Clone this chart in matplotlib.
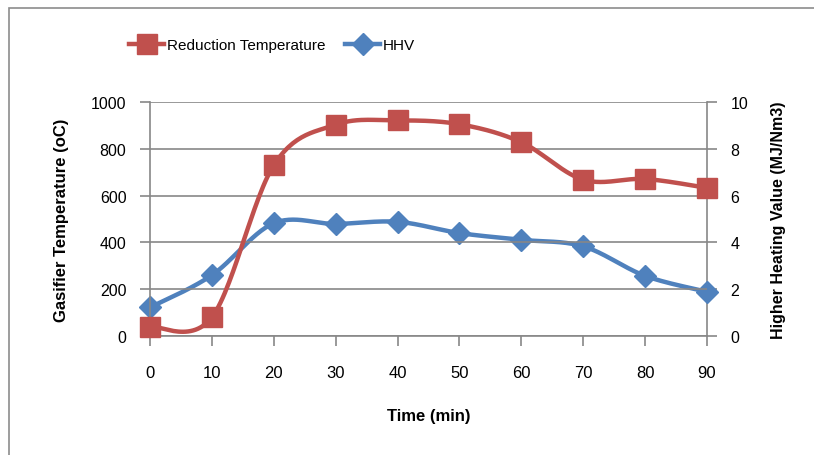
import numpy as np
import matplotlib
matplotlib.use("Agg")
import matplotlib.pyplot as plt
from matplotlib.lines import Line2D
from matplotlib.patches import Rectangle

# data
time_min = [0, 10, 20, 30, 40, 50, 60, 70, 80, 90]
reduction_temp = [40, 80, 730, 903, 921, 905, 828, 668, 671, 633]
hhv = [1.22, 2.6, 4.82, 4.79, 4.88, 4.4, 4.11, 3.83, 2.57, 1.89]

RED = "#C0504D"
BLUE = "#4F81BD"
GRID = "#878787"

plt.rcParams["font.family"] = ["Liberation Sans", "DejaVu Sans"]


def excel_smooth(x, y, n=30):
    # bezier smoothing like Excel's "smoothed line"
    x = np.asarray(x, float)
    y = np.asarray(y, float)
    px = np.concatenate([[x[0]], x, [x[-1]]])
    py = np.concatenate([[y[0]], y, [y[-1]]])
    xs, ys = [], []
    t = np.linspace(0, 1, n)
    for i in range(1, len(px) - 2):
        p0 = np.array([px[i], py[i]])
        p3 = np.array([px[i + 1], py[i + 1]])
        c1 = p0 + (np.array([px[i + 1], py[i + 1]]) - np.array([px[i - 1], py[i - 1]])) / 6
        c2 = p3 - (np.array([px[i + 2], py[i + 2]]) - np.array([px[i], py[i]])) / 6
        b = ((1 - t) ** 3)[:, None] * p0 + (3 * (1 - t) ** 2 * t)[:, None] * c1 \
            + (3 * (1 - t) * t ** 2)[:, None] * c2 + (t ** 3)[:, None] * p3
        xs.extend(b[:, 0])
        ys.extend(b[:, 1])
    return np.array(xs), np.array(ys)


W, H = 814, 456
fig = plt.figure(figsize=(W / 100, H / 100), dpi=100)
fig.patches.append(Rectangle((8.5 / W, -0.1), 1.5, 1 - 8.5 / H + 0.1, transform=fig.transFigure,
                             fill=False, edgecolor="#8c8c8c", linewidth=1.2))

ax = fig.add_axes([150 / W, 1 - 337 / H, (707 - 150) / W, (337 - 103) / H])
ax2 = ax.twinx()

ax.set_xlim(0, 90)
ax.set_ylim(0, 1000)
ax2.set_ylim(0, 10)
ax.set_xticks(time_min)
ax.set_yticks(range(0, 1001, 200))
ax2.set_yticks(range(0, 11, 2))
ax.yaxis.grid(True, color=GRID, linewidth=1.2)
ax.set_axisbelow(True)

for a in (ax, ax2):
    for side in ("top", "right", "left", "bottom"):
        a.spines[side].set_visible(False)
ax.spines["left"].set_visible(True)
ax.spines["bottom"].set_visible(True)
ax2.spines["right"].set_visible(True)
for sp in (ax.spines["left"], ax.spines["bottom"], ax2.spines["right"]):
    sp.set_color(GRID)
    sp.set_linewidth(1.2)

ax.tick_params(axis="both", colors=GRID, length=7, width=1.2, labelsize=11.5, labelcolor="black")
ax.tick_params(axis="x", pad=14, labelsize=12)
ax.tick_params(axis="y", pad=10)
ax2.tick_params(axis="y", colors=GRID, length=7, width=1.2, labelsize=11.5, labelcolor="black", pad=10)

sx, sy = excel_smooth(time_min, hhv)
ax2.plot(sx, sy, color=BLUE, linewidth=3.2, solid_capstyle="round", clip_on=False, zorder=3)
ax2.plot(time_min, hhv, linestyle="none", marker="D", markersize=11, color=BLUE, clip_on=False, zorder=4)

sx, sy = excel_smooth(time_min, reduction_temp)
ax.plot(sx, sy, color=RED, linewidth=3.2, solid_capstyle="round", clip_on=False, zorder=3)
ax.plot(time_min, reduction_temp, linestyle="none", marker="s", markersize=14, color=RED, clip_on=False, zorder=4)
ax.set_zorder(ax2.get_zorder() + 1)
ax.patch.set_visible(False)

ax.set_xlabel("Time (min)", fontsize=12, fontweight="bold", labelpad=20)
ax.set_ylabel("Gasifier Temperature (oC)", fontsize=12, fontweight="bold", labelpad=16)
ax2.set_ylabel("Higher Heating Value (MJ/Nm3)", fontsize=11.5, fontweight="bold", labelpad=16)

handles = [
    Line2D([], [], color=RED, linewidth=3.2, marker="s", markersize=14),
    Line2D([], [], color=BLUE, linewidth=3.2, marker="D", markersize=11),
]
fig.legend(handles, ["Reduction Temperature", "HHV"], loc="center", bbox_to_anchor=(272 / W, 1 - 46 / H),
           ncol=2, frameon=False, fontsize=11, handlelength=2.3, handletextpad=0.15, columnspacing=1.3)

fig.savefig("out.png", dpi=100)
